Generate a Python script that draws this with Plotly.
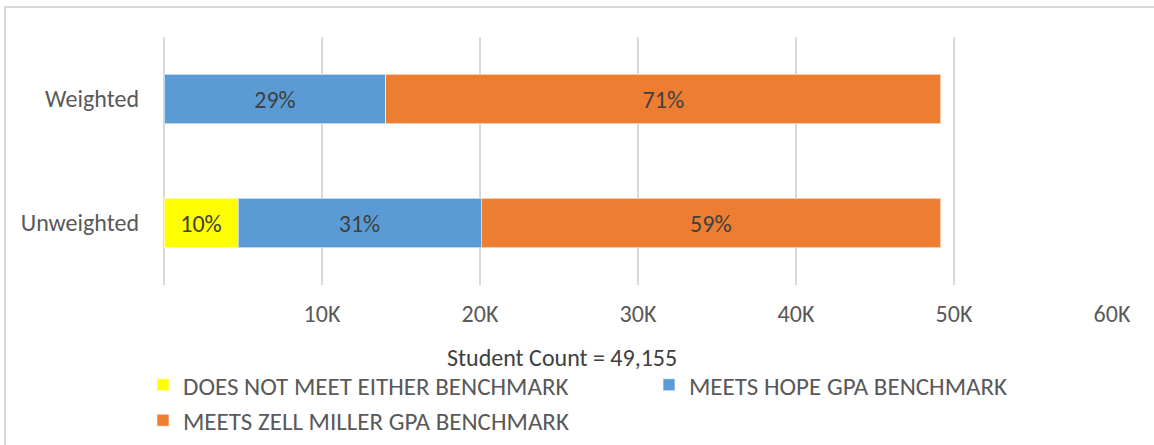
import plotly.graph_objects as go

categories = ["Unweighted", "Weighted"]
neither = [4684, 0]
hope = [15380, 14050]
zell = [29091, 35105]
neither_pct = ["10%", ""]
hope_pct = ["31%", "29%"]
zell_pct = ["59%", "71%"]
series_names = ["DOES NOT MEET EITHER BENCHMARK", "MEETS HOPE GPA BENCHMARK",
                "MEETS ZELL MILLER GPA BENCHMARK"]
colors = ["#FFFF00", "#5B9BD5", "#ED7D31"]
tick_vals = [10000, 20000, 30000, 40000, 50000, 60000]
tick_text = ["10K", "20K", "30K", "40K", "50K", "60K"]
axis_title = "Student Count = 49,155"

W, H = 1154, 445
L, R, T, B = 164, 42, 37, 160
FONT = "Carlito, Calibri, Lato, Liberation Sans, Arial, sans-serif"

fig = go.Figure()
for vals, pct, name, col in zip([neither, hope, zell], [neither_pct, hope_pct, zell_pct],
                                series_names, colors):
    fig.add_trace(go.Bar(
        y=categories, x=vals, orientation="h", name=name,
        marker=dict(color=col, line=dict(color="rgba(255,255,255,0.6)", width=1)),
        text=pct, textposition="inside", insidetextanchor="middle",
        textfont=dict(color="#404040", size=24, family=FONT),
        width=0.4, hoverinfo="x+name",
    ))

pw = W - L - R
ph = H - T - B
def px_x(x):
    return (x - L) / pw
def px_y(y):
    return (H - B - y) / ph

fig.update_layout(
    width=W, height=H, barmode="stack",
    margin=dict(l=L, r=R, t=T, b=B, pad=0, autoexpand=False),
    paper_bgcolor="white", plot_bgcolor="white",
    font=dict(family=FONT, color="#595959", size=24),
    xaxis=dict(range=[0, 60000], tickvals=tick_vals, ticktext=tick_text,
               showgrid=True, gridcolor="#D9D9D9", gridwidth=2, zeroline=True,
               zerolinecolor="#D9D9D9", zerolinewidth=2, showline=False,
               ticks="", tickfont=dict(size=24, color="#595959"), ticklabelstandoff=12),
    yaxis=dict(range=[-0.5, 1.5], showgrid=False, showline=False, ticks="",
               tickfont=dict(size=24, color="#595959"), ticklabelstandoff=24),
    showlegend=True,
    legend=dict(orientation="h", x=px_x(143), y=px_y(362), xanchor="left", yanchor="top",
                entrywidth=461, entrywidthmode="pixels", traceorder="normal",
                font=dict(size=25, color="#595959"), itemwidth=30,
                bgcolor="rgba(0,0,0,0)", borderwidth=0),
    annotations=[dict(text=axis_title, xref="paper", yref="paper",
                      x=px_x(562), y=px_y(357), xanchor="center", yanchor="middle",
                      showarrow=False, font=dict(size=24, color="#404040"))],
    shapes=[dict(type="rect", xref="paper", yref="paper",
                 x0=px_x(5), x1=px_x(1170), y0=px_y(460), y1=px_y(7),
                 line=dict(color="#D9D9D9", width=2), layer="below")],
)

fig.write_html("out.html", config={"displayModeBar": False},
               post_script="document.body.style.margin='0px';")
